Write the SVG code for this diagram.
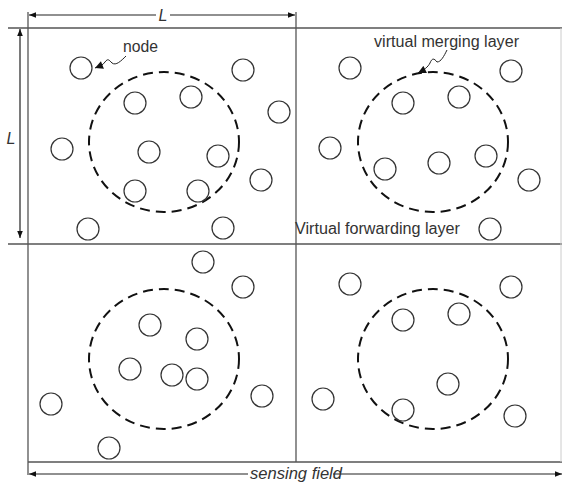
<svg xmlns="http://www.w3.org/2000/svg" width="562" height="482" viewBox="0 0 562 482">
  <style>
    .grid { stroke: #555; stroke-width: 1.3; fill: none; }
    .dim { stroke: #222; stroke-width: 1.2; fill: none; }
    .node { fill: #fff; stroke: #333; stroke-width: 1.2; }
    .layer { fill: none; stroke: #111; stroke-width: 2; stroke-dasharray: 10 6; }
    .lbl { font-family: "Liberation Sans", Arial, sans-serif; font-size: 16px; fill: #333; }
    .ital { font-family: "Liberation Sans", Arial, sans-serif; font-size: 16px; font-style: italic; fill: #333; }
    .lead { stroke: #222; stroke-width: 1; fill: none; }
  </style>
  <defs>
    <marker id="arr" viewBox="0 0 10 10" refX="10" refY="5" markerWidth="7" markerHeight="7" orient="auto-start-reverse" markerUnits="userSpaceOnUse">
      <path d="M0,1 L10,5 L0,9 z" fill="#111"/>
    </marker>
    <marker id="pt" viewBox="0 0 10 10" refX="10" refY="5" markerWidth="10" markerHeight="8" orient="auto" markerUnits="userSpaceOnUse">
      <path d="M0,0 L10,5 L0,10 z" fill="#111"/>
    </marker>
  </defs>

  <rect width="562" height="482" fill="#fff"/>

  <!-- field grid -->
  <g id="grid">
    <line class="grid" x1="8" y1="28" x2="562" y2="28"/>
    <line class="grid" x1="8" y1="244" x2="562" y2="244"/>
    <line class="grid" x1="28" y1="462" x2="562" y2="462"/>
    <line class="grid" x1="28" y1="12" x2="28" y2="475"/>
    <line class="grid" x1="296" y1="12" x2="296" y2="462"/>
    <line x1="561" y1="28" x2="561" y2="462" stroke="#ccc" stroke-width="1"/>
  </g>

  <!-- dimension arrows and leaders -->
  <g id="connectors">
    <line class="dim" x1="29" y1="15" x2="156" y2="15" marker-start="url(#arr)"/>
    <line class="dim" x1="170" y1="15" x2="295" y2="15" marker-end="url(#arr)"/>
    <line class="dim" x1="20" y1="29" x2="20" y2="238" marker-start="url(#arr)" marker-end="url(#arr)"/>
    <line class="dim" x1="29" y1="474" x2="248" y2="474" marker-start="url(#arr)"/>
    <line class="dim" x1="333" y1="474" x2="562" y2="474" marker-end="url(#arr)"/>
    <path class="lead" d="M126,56 C121,61 116,66 112,63 C109,60 108,58 105,62 C103,65 100,66 95,68" marker-end="url(#pt)"/>
    <path class="lead" d="M447,50 C444,56 441,62 437,62 C434,58 432,58 430,63 C428,67 424,70 418,73" marker-end="url(#pt)"/>
  </g>

  <!-- dimension labels -->
  <g id="labels">
    <text class="ital" x="163" y="21" text-anchor="middle">L</text>
    <text class="ital" x="11" y="144" text-anchor="middle">L</text>
    <text class="ital" x="250" y="479" textLength="92" lengthAdjust="spacingAndGlyphs">sensing field</text>
    <text class="lbl" x="123" y="52" textLength="35" lengthAdjust="spacingAndGlyphs">node</text>
    <text class="lbl" x="374" y="47" textLength="145" lengthAdjust="spacingAndGlyphs">virtual merging layer</text>
    <text class="lbl" x="295" y="234" textLength="165" lengthAdjust="spacingAndGlyphs">Virtual forwarding layer</text>
  </g>

  <!-- virtual merging layers -->
  <g id="merging-layers">
    <ellipse id="layer-tl" class="layer" cx="164" cy="142" rx="75" ry="70"/>
    <ellipse id="layer-tr" class="layer" cx="433" cy="142" rx="75" ry="70"/>
    <ellipse id="layer-bl" class="layer" cx="164" cy="359" rx="75" ry="70"/>
    <ellipse id="layer-br" class="layer" cx="433" cy="359" rx="75" ry="70"/>
  </g>

  <!-- sensor nodes, top-left cell -->
  <g id="nodes-tl">
    <g id="n1"><circle class="node" cx="81" cy="68" r="11"/></g>
    <g id="n2"><circle class="node" cx="243" cy="70" r="11"/></g>
    <g id="n3"><circle class="node" cx="135" cy="103" r="11"/></g>
    <g id="n4"><circle class="node" cx="191" cy="97" r="11"/></g>
    <g id="n5"><circle class="node" cx="279" cy="112" r="11"/></g>
    <g id="n6"><circle class="node" cx="62" cy="149" r="11"/></g>
    <g id="n7"><circle class="node" cx="149" cy="152" r="11"/></g>
    <g id="n8"><circle class="node" cx="218" cy="156" r="11"/></g>
    <g id="n9"><circle class="node" cx="261" cy="180" r="11"/></g>
    <g id="n10"><circle class="node" cx="135" cy="191" r="11"/></g>
    <g id="n11"><circle class="node" cx="198" cy="191" r="11"/></g>
    <g id="n12"><circle class="node" cx="88" cy="229" r="11"/></g>
    <g id="n13"><circle class="node" cx="223" cy="228" r="11"/></g>
  </g>

  <!-- sensor nodes, top-right cell -->
  <g id="nodes-tr">
    <g id="n14"><circle class="node" cx="350" cy="68" r="11"/></g>
    <g id="n15"><circle class="node" cx="511" cy="71" r="11"/></g>
    <g id="n16"><circle class="node" cx="403" cy="103" r="11"/></g>
    <g id="n17"><circle class="node" cx="459" cy="97" r="11"/></g>
    <g id="n18"><circle class="node" cx="330" cy="148" r="11"/></g>
    <g id="n19"><circle class="node" cx="385" cy="169" r="11"/></g>
    <g id="n20"><circle class="node" cx="439" cy="163" r="11"/></g>
    <g id="n21"><circle class="node" cx="486" cy="156" r="11"/></g>
    <g id="n22"><circle class="node" cx="529" cy="180" r="11"/></g>
    <g id="n23"><circle class="node" cx="490" cy="229" r="11"/></g>
  </g>

  <!-- sensor nodes, bottom-left cell -->
  <g id="nodes-bl">
    <g id="n24"><circle class="node" cx="203" cy="262" r="11"/></g>
    <g id="n25"><circle class="node" cx="243" cy="287" r="11"/></g>
    <g id="n26"><circle class="node" cx="150" cy="325" r="11"/></g>
    <g id="n27"><circle class="node" cx="197" cy="339" r="11"/></g>
    <g id="n28"><circle class="node" cx="130" cy="369" r="11"/></g>
    <g id="n29"><circle class="node" cx="172" cy="375" r="11"/></g>
    <g id="n30"><circle class="node" cx="197" cy="379" r="11"/></g>
    <g id="n31"><circle class="node" cx="262" cy="396" r="11"/></g>
    <g id="n32"><circle class="node" cx="51" cy="404" r="11"/></g>
    <g id="n33"><circle class="node" cx="109" cy="448" r="11"/></g>
  </g>

  <!-- sensor nodes, bottom-right cell -->
  <g id="nodes-br">
    <g id="n34"><circle class="node" cx="350" cy="284" r="11"/></g>
    <g id="n35"><circle class="node" cx="511" cy="287" r="11"/></g>
    <g id="n36"><circle class="node" cx="403" cy="320" r="11"/></g>
    <g id="n37"><circle class="node" cx="459" cy="314" r="11"/></g>
    <g id="n38"><circle class="node" cx="448" cy="384" r="11"/></g>
    <g id="n39"><circle class="node" cx="323" cy="399" r="11"/></g>
    <g id="n40"><circle class="node" cx="403" cy="410" r="11"/></g>
    <g id="n41"><circle class="node" cx="515" cy="416" r="11"/></g>
  </g>
</svg>
